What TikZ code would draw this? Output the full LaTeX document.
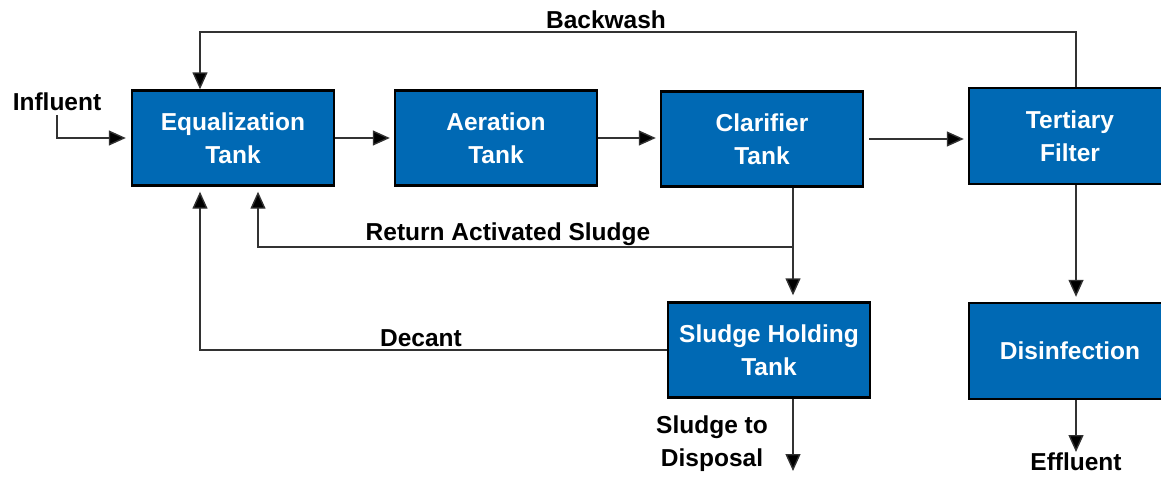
\documentclass[tikz,border=0pt]{standalone}
\usepackage{fontspec}
\setmainfont{Liberation Sans}
\usetikzlibrary{arrows.meta}
\definecolor{tankblue}{RGB}{0,105,180}
\definecolor{linegray}{RGB}{50,50,50}
\begin{document}
\begin{tikzpicture}[x=1pt,y=-1pt,
  tank/.style={draw=black, line width=2.4pt, fill=tankblue, text=white, align=center,
    minimum width=202pt, minimum height=95pt, inner sep=0pt,
    font=\fontsize{24.5}{33}\selectfont\bfseries},
  lbl/.style={inner sep=0pt, align=center, text=black, font=\fontsize{24.5}{33}\selectfont\bfseries},
  arr/.style={draw=linegray, line width=1.4pt, -{Triangle[length=17pt,width=15pt,fill=black]}},
  ln/.style={draw=linegray, line width=1.4pt}]
\useasboundingbox (0,0) rectangle (1161,477);
% boxes
\node[tank] (eq)  at (233,138) {Equalization\\Tank};
\node[tank] (aer) at (496,138) {Aeration\\Tank};
\node[tank] (cla) at (762,139) {Clarifier\\Tank};
\node[tank, minimum height=96pt] (ter) at (1070,136) {Tertiary\\Filter};
\node[tank] (shd) at (769,350) {Sludge Holding\\Tank};
\node[tank, minimum height=96pt] (dis) at (1070,351) {Disinfection};
% labels
\node[lbl] (inf) at (57,102) {Influent};
\node[lbl] (bw) at (606,20) {Backwash};
\node[lbl] (ras) at (508,234) {Return Activated Sludge};
\node[lbl] (dec) at (421,338) {Decant};
\node[lbl] (std) at (712,444) {Sludge to\\Disposal};
\node[lbl] (eff) at (1076,462) {Effluent};
% helper coordinates
\coordinate (bwR) at (1076,32);
\coordinate (bwL) at (200,32);
\coordinate (cx) at (793,247);
\coordinate (rasL) at (258,247);
\coordinate (decL) at (200,350);
\coordinate (sdEnd) at (793,471);
\coordinate (effTop) at (1076,452);
% main flow
\draw[arr, shorten >=5pt] (inf.south) ++(0,4) |- (eq.west);
\draw[arr, shorten >=4pt] (eq.east) -- (aer.west);
\draw[arr, shorten >=4pt] (aer.east) -- (aer.east -| cla.west);
\draw[arr, shorten <=5pt, shorten >=4pt] (cla.east) -- (cla.east -| ter.west);
% backwash
\draw[arr] (ter.north -| bwR) -- (bwR) -- (bwL) -- (bwL |- eq.north);
% clarifier to sludge holding
\draw[arr, shorten >=6pt] (cla.south -| cx) -- (cx |- shd.north);
% RAS
\draw[arr, shorten >=5pt] (cx) -- (rasL) -- (rasL |- eq.south);
% decant
\draw[arr, shorten >=5pt] (shd.west) -- (decL) -- (decL |- eq.south);
% sludge to disposal
\draw[arr] (shd.south -| cx) -- (sdEnd);
% tertiary to disinfection
\draw[arr, shorten >=5pt] (ter.south -| bwR) -- (dis.north -| bwR);
% effluent
\draw[arr] (dis.south -| bwR) -- (effTop);
\end{tikzpicture}
\end{document}
